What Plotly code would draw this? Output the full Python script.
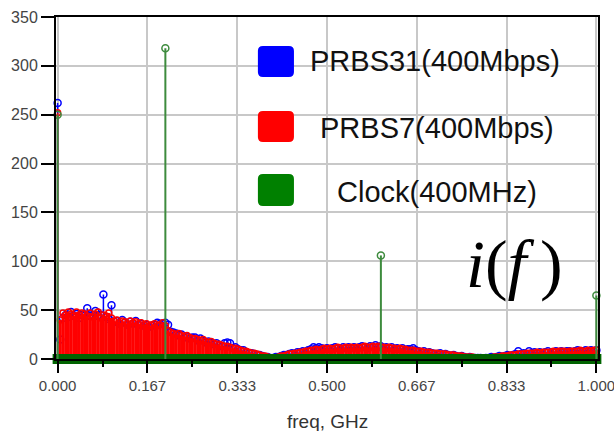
import numpy as np
import plotly.graph_objects as go

# ---------------- data ----------------
freq_ghz = np.round(np.arange(201) * 0.005, 3)  # uniform spectral grid, 0 .. 1 GHz

prbs31 = [262,
          20, 42, 45, 43, 48, 44, 46, 42, 45, 44,
          52, 44, 45, 49, 44, 45, 66, 43, 41, 55,
          38, 39, 36, 40, 37, 35, 38, 36, 39, 35,
          36, 34, 35, 33, 34, 35, 37, 36, 36, 37,
          35, 28, 27, 26, 24, 25, 22, 23, 21, 22,
          22, 19, 21, 19, 17, 18, 17, 15, 16, 14,
          13, 16, 17, 16, 11, 12, 10, 9, 9, 7,
          6, 6, 5, 4, 4, 3, 2, 2, 1, 1,
          2, 2, 3, 4, 4, 5, 6, 5, 7, 7,
          8, 7, 9, 10, 12, 11, 12, 11, 10, 11,
          10, 11, 12, 11, 10, 12, 11, 12, 11, 12,
          11, 12, 13, 12, 11, 13, 12, 14, 12, 13,
          11, 12, 11, 12, 10, 11, 10, 11, 9, 10,
          10, 11, 9, 8, 7, 8, 6, 7, 6, 5,
          5, 6, 4, 5, 4, 3, 4, 3, 2, 3,
          2, 1, 2, 1, 1, 1, 1, 0, 1, 1,
          2, 1, 2, 3, 2, 3, 4, 3, 4, 5,
          8, 5, 6, 5, 8, 6, 7, 6, 7, 6,
          7, 8, 6, 7, 8, 7, 8, 7, 8, 8,
          7, 8, 9, 8, 8, 9, 8, 9, 8, 9]

prbs7 = [252,
         40, 47, 45, 48, 46, 44, 48, 45, 47, 46,
         44, 47, 43, 46, 48, 42, 45, 44, 47, 42,
         39, 40, 37, 39, 38, 36, 39, 37, 38, 36,
         37, 35, 36, 34, 35, 36, 34, 35, 37, 34,
         29, 27, 26, 25, 26, 24, 23, 24, 22, 21,
         21, 20, 19, 20, 18, 17, 18, 16, 15, 15,
         14, 13, 13, 12, 11, 11, 10, 9, 8, 8,
         7, 6, 6, 5, 4, 3, 3, 2, 1, 1,
         1, 2, 3, 3, 4, 5, 5, 6, 6, 7,
         7, 8, 8, 9, 9, 10, 9, 10, 11, 10,
         11, 10, 11, 12, 11, 11, 12, 11, 12, 11,
         12, 11, 12, 13, 12, 12, 13, 12, 13, 12,
         12, 11, 12, 11, 11, 10, 11, 10, 10, 9,
         9, 9, 8, 8, 8, 7, 7, 7, 6, 6,
         6, 5, 5, 5, 4, 4, 4, 3, 3, 3,
         2, 2, 2, 2, 1, 1, 1, 1, 1, 1,
         1, 2, 2, 2, 3, 3, 3, 4, 4, 4,
         5, 5, 5, 6, 6, 6, 6, 7, 6, 7,
         7, 7, 7, 8, 7, 8, 8, 8, 7, 8,
         8, 8, 8, 9, 8, 8, 9, 8, 9, 9]

clock_freq = [0.0, 0.2, 0.6, 1.0]
clock_amp = [250, 318, 106, 65]
clock_floor = [0] * len(freq_ghz)  # clock spectrum is zero at all other bins

x_tickvals = [0, 1/6, 1/3, 0.5, 2/3, 5/6, 1.0]
x_ticktext = ["0.000", "0.167", "0.333", "0.500", "0.667", "0.833", "1.000"]
y_tickvals = [0, 50, 100, 150, 200, 250, 300, 350]

legend_labels = ["PRBS31(400Mbps)", "PRBS7(400Mbps)", "Clock(400MHz)"]
legend_colors = ["#0000ff", "#ff0000", "#008000"]
x_title = "freq, GHz"

# ---------------- layout geometry ----------------
W, H = 614, 431
XR = [-0.003, 1.003]
px_per = 538.0
L = 58 - 0.003 * px_per
PW = (XR[1] - XR[0]) * px_per
R = W - L - PW
T, B = 17, 72
PH = H - T - B


def stems(x, y):
    xs, ys = [], []
    for xi, yi in zip(x, y):
        xs += [xi, xi, None]
        ys += [0, yi, None]
    return xs, ys


def px2paper(px, py):
    return (px - L) / PW, (H - B - py) / PH


fig = go.Figure()

BLUE, RED, GREEN, DKGREEN = "#0000ff", "#ff0000", "#3d8b3d", "#006400"

bx, by = stems(freq_ghz, prbs31)
fig.add_trace(go.Scatter(x=bx, y=by, mode="lines", line=dict(color=BLUE, width=1.5),
                         hoverinfo="skip", showlegend=False))
fig.add_trace(go.Scatter(x=freq_ghz, y=prbs31, mode="markers", cliponaxis=False,
                         marker=dict(symbol="circle-open", size=7, color=BLUE,
                                     line=dict(width=1.5, color=BLUE)),
                         showlegend=False))
# DC stem of PRBS7 lies under the clock's DC stem; draw its line thin there
rx, ry = stems(freq_ghz[1:], prbs7[1:])
fig.add_trace(go.Scatter(x=rx, y=ry, mode="lines", line=dict(color=RED, width=3),
                         hoverinfo="skip", showlegend=False))
rx0, ry0 = stems(freq_ghz[:1], prbs7[:1])
fig.add_trace(go.Scatter(x=rx0, y=ry0, mode="lines", line=dict(color=RED, width=1.5),
                         hoverinfo="skip", showlegend=False))
fig.add_trace(go.Scatter(x=freq_ghz, y=prbs7, mode="markers", cliponaxis=False,
                         marker=dict(symbol="circle-open", size=6, color=RED,
                                     line=dict(width=1.5, color=RED)),
                         showlegend=False))
fig.add_trace(go.Scatter(x=freq_ghz, y=clock_floor, mode="markers", cliponaxis=False,
                         marker=dict(symbol="square", size=10, color=DKGREEN,
                                     line=dict(width=0)),
                         showlegend=False))
gx, gy = stems(clock_freq, clock_amp)
fig.add_trace(go.Scatter(x=gx, y=gy, mode="lines", line=dict(color=GREEN, width=2),
                         hoverinfo="skip", showlegend=False))
fig.add_trace(go.Scatter(x=clock_freq, y=clock_amp, mode="markers", cliponaxis=False,
                         marker=dict(symbol="circle-open", size=7, color=GREEN,
                                     line=dict(width=1.5, color=GREEN)),
                         showlegend=False))

# ---------------- custom legend ----------------
shapes = []
annotations = []
box_y = [(46, 77), (111, 142), (174, 206)]
text_pos = [(435, 61), (437, 128), (437, 192)]
for (y0, y1), col, lab, (tx, ty) in zip(box_y, legend_colors, legend_labels, text_pos):
    x0p, y0p = px2paper(258, y1)
    x1p, y1p = px2paper(294, y0)
    rxp = 5 / PW
    ryp = 5 / PH
    path = (f"M {x0p+rxp},{y0p} L {x1p-rxp},{y0p} Q {x1p},{y0p} {x1p},{y0p+ryp} "
            f"L {x1p},{y1p-ryp} Q {x1p},{y1p} {x1p-rxp},{y1p} "
            f"L {x0p+rxp},{y1p} Q {x0p},{y1p} {x0p},{y1p-ryp} "
            f"L {x0p},{y0p+ryp} Q {x0p},{y0p} {x0p+rxp},{y0p} Z")
    shapes.append(dict(type="path", xref="paper", yref="paper", path=path,
                       fillcolor=col, line=dict(width=0), layer="above"))
    ax, ay = px2paper(tx, ty)
    annotations.append(dict(x=ax, y=ay, xref="paper", yref="paper", text=lab,
                            showarrow=False, xanchor="center", yanchor="middle",
                            font=dict(family="Liberation Sans, Arial", size=29, color="#111111")))

ax, ay = px2paper(514, 264)
annotations.append(dict(x=ax, y=ay, xref="paper", yref="paper",
                        text="<i>i</i>(<i>f</i>\u2009)", showarrow=False,
                        xanchor="center", yanchor="middle",
                        font=dict(family="Liberation Serif, Times New Roman", size=68, color="#000000")))

ax, ay = px2paper(327, 421)
annotations.append(dict(x=ax, y=ay, xref="paper", yref="paper", text=x_title,
                        showarrow=False, xanchor="center", yanchor="middle",
                        font=dict(family="Liberation Sans, Arial", size=19, color="#333333")))

fig.update_layout(
    width=W, height=H,
    margin=dict(l=L, r=R, t=T, b=B, pad=0, autoexpand=False),
    paper_bgcolor="white", plot_bgcolor="white",
    shapes=shapes, annotations=annotations,
    showlegend=False,
    xaxis=dict(range=XR, tickvals=x_tickvals, ticktext=x_ticktext, automargin=False,
               showgrid=True, gridcolor="#c8c8c8", gridwidth=1.5, zeroline=False,
               showline=True, mirror=True, linecolor="#000000", linewidth=2,
               ticks="outside", ticklen=12, tickwidth=2, tickcolor="#000000",
               ticklabeloverflow="allow",
               minor=dict(ticks="outside", ticklen=6, tickwidth=1.5, tickcolor="#000000",
                          dtick=1/12, tick0=0, showgrid=False),
               tickfont=dict(family="Liberation Sans, Arial", size=15, color="#444444")),
    yaxis=dict(range=[0, 350], tickvals=y_tickvals, automargin=False,
               showgrid=True, gridcolor="#c8c8c8", gridwidth=1.5, zeroline=False,
               showline=True, mirror=True, linecolor="#000000", linewidth=2,
               ticks="outside", ticklen=13, tickwidth=2, tickcolor="#000000",
               tickfont=dict(family="Liberation Sans, Arial", size=16, color="#444444")),
)

fig.write_html("out.html")
